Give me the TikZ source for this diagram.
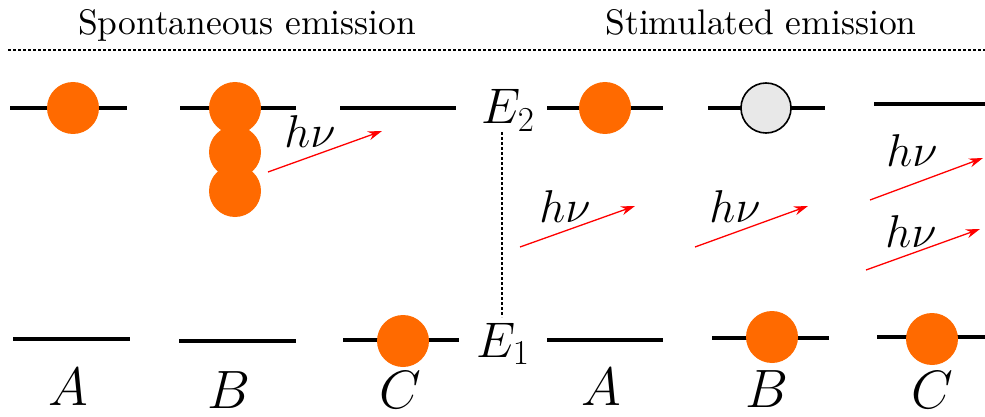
\RequirePackage{fix-cm}
\documentclass[tikz,border=0pt]{standalone}
\usepackage{fontspec}
\newfontfamily\titlefont[Extension=.otf]{lmroman10-regular}
\usetikzlibrary{arrows.meta}
\definecolor{dotorange}{RGB}{255,106,0}
\definecolor{holegray}{RGB}{232,232,232}
\begin{document}
\begin{tikzpicture}[x=1pt,y=-1pt,
 level/.style={line width=4pt},
 electron/.style={circle,fill=dotorange,minimum size=52pt,inner sep=0pt},
 hole/.style={circle,fill=holegray,draw=black,line width=1.6pt,minimum size=50pt,inner sep=0pt},
 photon/.style={red,line width=1.3pt,-{Stealth[length=14pt,width=9pt]}},
 title/.style={font=\titlefont\fontsize{35.5}{42}\selectfont,anchor=base,inner sep=0pt},
 mlabel/.style={font=\fontsize{54}{60}\selectfont,anchor=base,inner sep=0pt},
 elabel/.style={font=\fontsize{50}{60}\selectfont,anchor=base,inner sep=0pt},
 hlabel/.style={font=\fontsize{46}{54}\selectfont,anchor=base,inner sep=0pt},
 sep/.style={line width=1.2pt,dash pattern=on 3pt off 2pt},
]
\useasboundingbox (0,0) rectangle (985,417);

% titles and separator
\node[title] (tspont) at (247,35) {Spontaneous emission};
\node[title] (tstim) at (761,35) {Stimulated emission};
\coordinate (sepL) at (8,50);
\coordinate (sepR) at (985,50);
\draw[sep] (sepL) -- (sepR);

% spontaneous emission: upper levels
\coordinate (sAu1) at (10,108);  \coordinate (sAu2) at (127,108);
\coordinate (sBu1) at (180,108); \coordinate (sBu2) at (296,108);
\coordinate (sCu1) at (340,108); \coordinate (sCu2) at (456,108);
\draw[level] (sAu1) -- (sAu2);
\draw[level] (sBu1) -- (sBu2);
\draw[level] (sCu1) -- (sCu2);
% spontaneous emission: lower levels
\coordinate (sAl1) at (13,339);  \coordinate (sAl2) at (130,339);
\coordinate (sBl1) at (179,341); \coordinate (sBl2) at (296,341);
\coordinate (sCl1) at (343,340); \coordinate (sCl2) at (459,340);
\draw[level] (sAl1) -- (sAl2);
\draw[level] (sBl1) -- (sBl2);
\draw[level] (sCl1) -- (sCl2);

\node[electron] (eA) at (73,108) {};
\node[electron] (eB3) at (235,191) {};
\node[electron] (eB2) at (235,152) {};
\node[electron] (eB1) at (235,108) {};
\node[electron] (eC) at (403,341) {};

\coordinate (pB1) at (268,172); \coordinate (pB2) at (382,131);
\draw[photon] (pB1) -- (pB2);
\node[hlabel] (hB) at (310,148) {$h\nu$};

\node[mlabel] (lsA) at (68,405) {$A$};
\node[mlabel] (lsB) at (229,408) {$B$};
\node[mlabel] (lsC) at (400,408) {$C$};

% energy labels
\node[elabel] (E2) at (508,124) {$E_2$};
\node[elabel] (E1) at (503,357) {$E_1$};
\coordinate (vtop) at (502,132);
\coordinate (vbot) at (502,317);
\draw[line width=1.4pt,dash pattern=on 3pt off 2pt] (vtop) -- (vbot);

% stimulated emission: upper levels
\coordinate (tAu1) at (547,108); \coordinate (tAu2) at (663,108);
\coordinate (tBu1) at (708,108); \coordinate (tBu2) at (825,108);
\coordinate (tCu1) at (874,104); \coordinate (tCu2) at (985,104);
\draw[level] (tAu1) -- (tAu2);
\draw[level] (tBu1) -- (tBu2);
\draw[level] (tCu1) -- (tCu2);
% stimulated emission: lower levels
\coordinate (tAl1) at (547,340); \coordinate (tAl2) at (663,340);
\coordinate (tBl1) at (712,338); \coordinate (tBl2) at (829,338);
\coordinate (tCl1) at (877,337); \coordinate (tCl2) at (985,337);
\draw[level] (tAl1) -- (tAl2);
\draw[level] (tBl1) -- (tBl2);
\draw[level] (tCl1) -- (tCl2);

\node[electron] (fA) at (605,108) {};
\node[hole] (fB) at (766,108) {};
\node[electron] (fB2) at (772,337) {};
\node[electron] (fC) at (932,339) {};

\coordinate (qA1) at (520,247); \coordinate (qA2) at (635,206);
\coordinate (qB1) at (695,247); \coordinate (qB2) at (808,206);
\coordinate (qC1) at (870,200); \coordinate (qC2) at (983,158);
\coordinate (qD1) at (866,270); \coordinate (qD2) at (980,229);
\draw[photon] (qA1) -- (qA2);
\draw[photon] (qB1) -- (qB2);
\draw[photon] (qC1) -- (qC2);
\draw[photon] (qD1) -- (qD2);
\node[hlabel] (hA) at (565,222) {$h\nu$};
\node[hlabel] (hBt) at (735,222) {$h\nu$};
\node[hlabel] (hC) at (912,167) {$h\nu$};
\node[hlabel] (hD) at (911,247) {$h\nu$};

\node[mlabel] (ltA) at (601,405) {$A$};
\node[mlabel] (ltB) at (767,407) {$B$};
\node[mlabel] (ltC) at (932,408) {$C$};
\end{tikzpicture}
\end{document}
